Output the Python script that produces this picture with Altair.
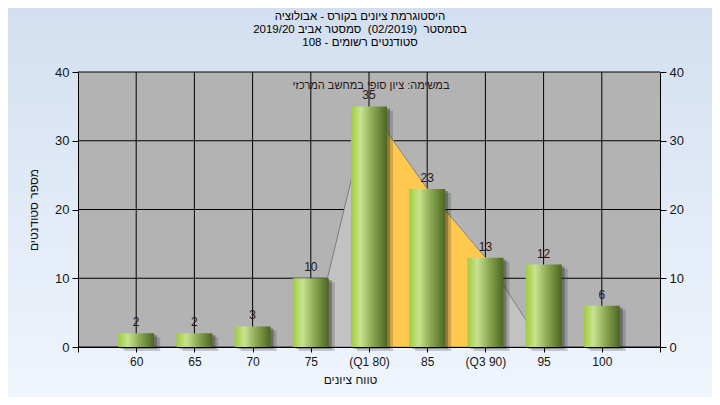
import json
import altair as alt
import pandas as pd

# ---- data ----
categories = ["60", "65", "70", "75", "(Q1 80)", "85", "(Q3 90)", "95", "100"]
counts = [2, 2, 3, 10, 35, 23, 13, 12, 6]
positions = [1, 2, 3, 4, 5, 6, 7, 8, 9]
curve_values = [0, 0, 0, 0, 35, 23, 13, 0, 0]
iqr_positions = [5, 6, 7]
iqr_values = [35, 23, 13]
y_ticks = [0, 10, 20, 30, 40]
x_ticks = [0, 1, 2, 3, 4, 5, 6, 7, 8, 9, 10]
x_grid = [1, 2, 3, 4, 5, 6, 7, 8, 9]

title_lines = [
    "היסטוגרמת ציונים בקורס - אבולוציה",
    "בסמסטר \u00a0(02/2019) \u00a0סמסטר אביב 2019/20",
    "סטודנטים רשומים - 108",
]
note_text = "במשימה: ציון סופי במחשב המרכזי"
x_title = "טווח ציונים"
y_title = "מספר סטודנטים"

# ---- layout ----
W, H = 582, 275
PAD = {"left": 70, "top": 64, "right": 52, "bottom": 50}
FONT = "Liberation Sans, DejaVu Sans, sans-serif"
TXT = "#151515"

xs = alt.Scale(domain=[0, 10], nice=False, zero=False, padding=0)
ys = alt.Scale(domain=[0, 40], nice=False, padding=0)

bars_df = pd.DataFrame({"pos": positions, "label": categories,
                        "count": counts, "curve": curve_values})
iqr_df = pd.DataFrame({"pos": iqr_positions, "count": iqr_values})
yt_df = pd.DataFrame({"v": y_ticks})

label_arr = [""] + categories + [""]
x_axis = alt.Axis(
    values=x_ticks, labelExpr=json.dumps(label_arr) + "[datum.value]",
    grid=False, tickSize=5, tickColor="black", domainColor="black",
    labelFontSize=12, labelColor=TXT, labelPadding=4,
    title=x_title, titleFontSize=12, titleFontWeight="normal", titleColor=TXT,
    titlePadding=7, titleX=272, zindex=1,
)
left_axis = alt.Axis(
    values=y_ticks, grid=False, tickSize=6, tickColor="black", domainColor="black",
    labelFontSize=13, labelColor=TXT, labelPadding=3,
    title=y_title, titleFontSize=12, titleFontWeight="normal", titleColor=TXT,
    titlePadding=14, zindex=1,
)
right_axis = alt.Axis(
    orient="right", values=y_ticks, grid=False, tickSize=6, tickColor="black",
    domainColor="black", labelFontSize=13, labelColor=TXT, labelPadding=3,
    title=None, zindex=1,
)

bg = alt.Chart(alt.Data(values=[{}])).mark_rect(
    fill=alt.Gradient(gradient="linear",
                      stops=[alt.GradientStop(color="#d3dff0", offset=0),
                             alt.GradientStop(color="#eff5fd", offset=1)],
                      x1=0, x2=0, y1=0, y2=1)
).encode(x=alt.value(-PAD["left"]), x2=alt.value(W + PAD["right"]),
         y=alt.value(-PAD["top"]), y2=alt.value(H + PAD["bottom"]))

plot_bg = alt.Chart(alt.Data(values=[{}])).mark_rect(fill="#b3b3b3").encode(
    x=alt.value(0), x2=alt.value(W), y=alt.value(0), y2=alt.value(H))

hgrid = alt.Chart(yt_df).mark_rule(color="black", strokeWidth=1).encode(
    y=alt.Y("v:Q", scale=ys, axis=right_axis))
vgrid = alt.Chart(pd.DataFrame({"v": x_grid})).mark_rule(color="black", strokeWidth=1).encode(
    x=alt.X("v:Q", scale=xs, axis=None))

gray_area = alt.Chart(bars_df).mark_area(
    fill="#c2c2c2", stroke="#7c7c7c", strokeWidth=1, interpolate="linear").encode(
    x=alt.X("pos:Q", scale=xs, axis=None), y=alt.Y("curve:Q", scale=ys, axis=None))

yellow_area = alt.Chart(iqr_df).mark_area(
    fill="#ffc94f", stroke="#8a8a8a", strokeWidth=0.8, interpolate="linear").encode(
    x=alt.X("pos:Q", scale=xs, axis=None), y=alt.Y("count:Q", scale=ys, axis=None))

shadow1 = alt.Chart(bars_df).mark_bar(
    size=36, fill="#202020", opacity=0.2, xOffset=6, yOffset=4, y2Offset=4).encode(
    x=alt.X("pos:Q", scale=xs, axis=None), y=alt.Y("count:Q", scale=ys, axis=None))
shadow2 = alt.Chart(bars_df).mark_bar(
    size=36, fill="#202020", opacity=0.35, xOffset=3, yOffset=2, y2Offset=2).encode(
    x=alt.X("pos:Q", scale=xs, axis=None), y=alt.Y("count:Q", scale=ys, axis=None))

bar_grad = alt.Gradient(
    gradient="linear",
    stops=[alt.GradientStop(color="#9fcb3e", offset=0),
           alt.GradientStop(color="#c7e38e", offset=0.27),
           alt.GradientStop(color="#8eac56", offset=0.58),
           alt.GradientStop(color="#4c6621", offset=1)],
    x1=0, x2=1, y1=0, y2=0)
bars = alt.Chart(bars_df).mark_bar(size=36, fill=bar_grad).encode(
    x=alt.X("pos:Q", scale=xs, axis=x_axis),
    y=alt.Y("count:Q", scale=ys, axis=left_axis))

labels = alt.Chart(bars_df).mark_text(
    baseline="bottom", dy=-4, fontSize=12, color="#2a1616").encode(
    x=alt.X("pos:Q", scale=xs, axis=None),
    y=alt.Y("count:Q", scale=ys, axis=None),
    text=alt.Text("count:Q"))

note = alt.Chart(alt.Data(values=[{}])).mark_text(
    text=note_text, fontSize=11, color="#2a1616", baseline="middle").encode(
    x=alt.value(293), y=alt.value(14))

title = alt.Chart(alt.Data(values=[{}])).mark_text(
    text=title_lines, fontSize=11.5, color="black", baseline="top", lineHeight=13).encode(
    x=alt.value(282), y=alt.value(-61))

chart = alt.layer(
    bg, plot_bg, hgrid, vgrid, gray_area, yellow_area,
    shadow1, shadow2, bars, labels, note, title
).resolve_axis(x="independent", y="independent").properties(
    width=W, height=H,
    autosize=alt.AutoSizeParams(type="none"),
    padding=PAD,
).configure(font=FONT).configure_view(stroke=None)

chart.save("out.html", embed_options={"renderer": "svg", "actions": False})
